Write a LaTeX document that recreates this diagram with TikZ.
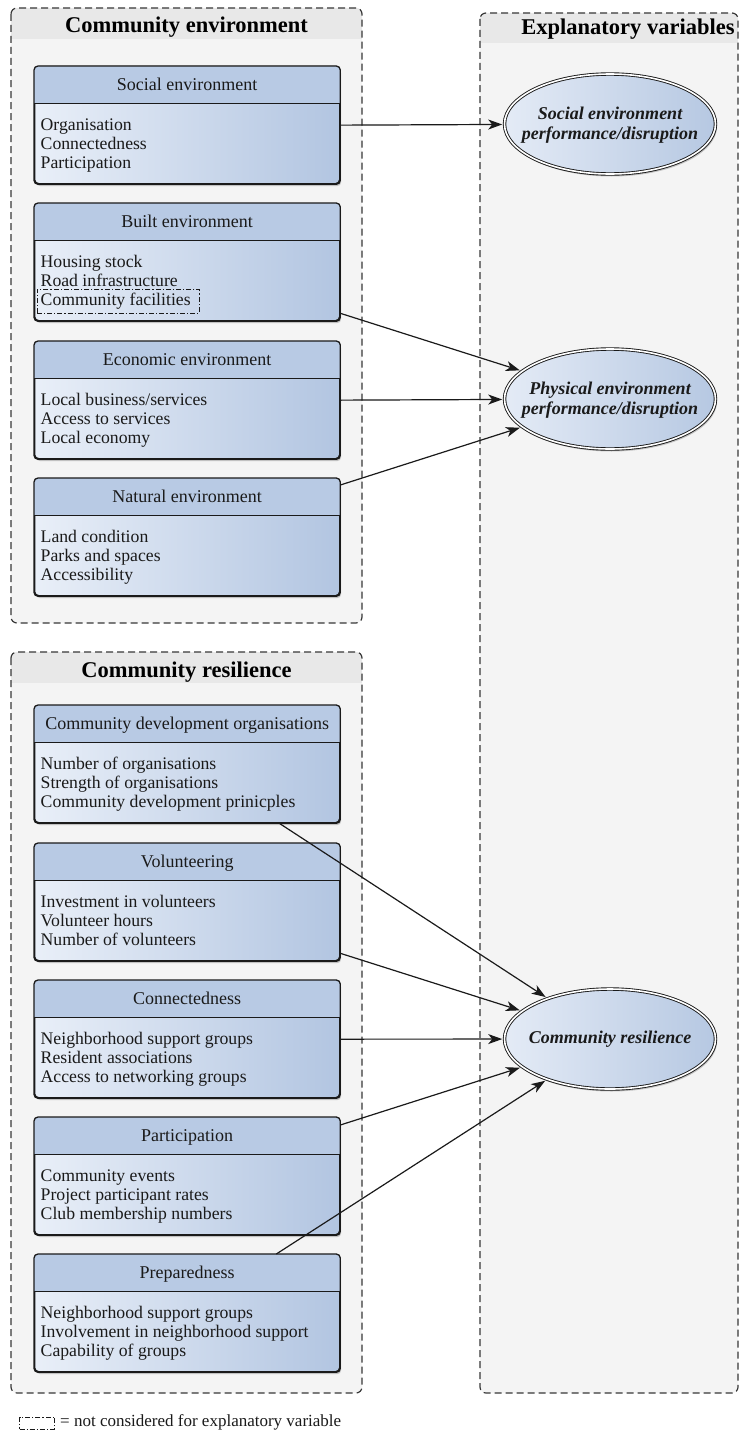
\documentclass[tikz,border=0pt]{standalone}
\usepackage{fontspec}
\setmainfont{Liberation Serif}
\usetikzlibrary{shadows,arrows.meta,shapes.geometric,calc}
\definecolor{headcol}{HTML}{B8CAE4}
\definecolor{bodyL}{HTML}{E9EFF8}
\definecolor{bodyR}{HTML}{B2C5E1}
\definecolor{ellL}{HTML}{E4EBF6}
\definecolor{ellR}{HTML}{B6C8E2}
\definecolor{contfill}{HTML}{F4F4F4}
\definecolor{contband}{HTML}{E8E8E8}
\definecolor{contline}{HTML}{383838}
\definecolor{ink}{HTML}{1A1A1A}
\tikzset{
  contborder/.style={draw=contline, line width=1.2pt, dash pattern=on 7pt off 4pt, rounded corners=6pt},
  conttitle/.style={font=\fontsize{22.5}{24}\selectfont\bfseries, text=black, inner sep=0pt},
  boxbody/.style={draw=ink, line width=1.3pt, rounded corners=4pt, minimum width=305pt, minimum height=117pt, inner sep=0pt,
    left color=bodyL, right color=bodyR,
    drop shadow={shadow xshift=1.5pt, shadow yshift=-2.5pt, opacity=0.3, fill=black!70}},
  headtext/.style={font=\fontsize{18}{20}\selectfont, text=ink, inner sep=0pt},
  itemtext/.style={font=\fontsize{17.7}{19}\selectfont, text=ink, inner sep=0pt},
  ellnode/.style={ellipse, draw=ink, double=white, double distance=1.6pt, line width=0.9pt,
    minimum width=211pt, minimum height=100pt, inner sep=0pt, outer sep=2.3pt,
    left color=ellL, right color=ellR,
    drop shadow={shadow xshift=1.5pt, shadow yshift=-2.5pt, opacity=0.3, fill=black!70}},
  elltext/.style={align=center, text=ink, inner sep=0pt,
    font=\fontsize{18}{20}\selectfont\bfseries\itshape},
  arr/.style={draw=ink, line width=1.2pt, -{Stealth[length=14pt,width=10pt,inset=4pt]}},
  dashdot/.style={draw=ink, line width=0.9pt, dash pattern=on 5pt off 2pt on 1.2pt off 2pt},
}
\newcommand{\contbox}[8]{%
  \fill[contfill, rounded corners=6pt] (#2,#3) rectangle (#4,#5);
  \begin{scope}
    \clip[rounded corners=6pt] (#2,#3) rectangle (#4,#5);
    \fill[contband] (#2,#3) rectangle (#4,#6);
  \end{scope}
  \draw[contborder] (#2,#3) rectangle (#4,#5);
  \node[conttitle, anchor=base] (#1) at (#7) {#8};
}
\newcommand{\varbox}[6]{%
  \node[boxbody, anchor=north west] (#1) at (34,#2) {};
  \begin{scope}
    \clip[rounded corners=4pt] (#1.north west) rectangle (#1.south east);
    \fill[headcol] (#1.north west) rectangle ([yshift=-37.5pt]#1.north east);
  \end{scope}
  \draw[ink, line width=1.2pt] ([yshift=-37.5pt]#1.north west) -- ([yshift=-37.5pt]#1.north east);
  \draw[ink, line width=1.3pt, rounded corners=4pt] (#1.north west) rectangle (#1.south east);
  \node[headtext, anchor=base] (#1h) at ([yshift=-24.5pt]#1.north) {#3};
  \node[itemtext, anchor=base west] (#1a) at ([xshift=6.5pt,yshift=-64pt]#1.north west) {#4};
  \node[itemtext, anchor=base west] (#1b) at ([xshift=6.5pt,yshift=-83.3pt]#1.north west) {#5};
  \node[itemtext, anchor=base west] (#1c) at ([xshift=6.5pt,yshift=-102.6pt]#1.north west) {#6};
}
\begin{document}
\begin{tikzpicture}[x=1pt,y=-1pt]
\useasboundingbox[fill=white] (0,0) rectangle (740,1437);

% containers
\contbox{envtitle}{11}{8}{362}{623}{39}{186.5,32.5}{Community environment}
\contbox{restitle}{11}{652}{362}{1393}{683}{186.5,677}{Community resilience}
\contbox{exptitle}{480}{13}{738}{1393}{43}{628,35}{Explanatory variables}

% variable boxes
\varbox{soc}{66}{Social environment}{Organisation}{Connectedness}{Participation}
\varbox{blt}{203}{Built environment}{Housing stock}{Road infrastructure}{Community facilities}
\varbox{eco}{341}{Economic environment}{Local business/services}{Access to services}{Local economy}
\varbox{nat}{478}{Natural environment}{Land condition}{Parks and spaces}{Accessibility}
\varbox{cdo}{705}{Community development organisations}{Number of organisations}{Strength of organisations}{Community development prinicples}
\varbox{vol}{843}{Volunteering}{Investment in volunteers}{Volunteer hours}{Number of volunteers}
\varbox{con}{980}{Connectedness}{Neighborhood support groups}{Resident associations}{Access to networking groups}
\varbox{par}{1117}{Participation}{Community events}{Project participant rates}{Club membership numbers}
\varbox{pre}{1254}{Preparedness}{Neighborhood support groups}{Involvement in neighborhood support}{Capability of groups}

% not considered marker
\node[dashdot, minimum width=162pt, minimum height=24pt, inner sep=0pt] (bltmark) at (118,301) {};

% explanatory variables
\node[ellnode] (socell) at (610,124) {};
\node[elltext] (socelltext) at (610,125) {Social environment\\performance/disruption};
\node[ellnode] (physell) at (610,399) {};
\node[elltext] (physelltext) at (610,400) {Physical environment\\performance/disruption};
\node[ellnode] (resell) at (610,1039) {};
\node[elltext] (reselltext) at (610,1039) {Community resilience};

% connectors
\draw[arr] (soc.east) -- (socell);
\draw[arr] ([yshift=8pt]blt.south east) -- (physell);
\draw[arr] (eco.east) -- (physell);
\draw[arr] ([yshift=-7pt]nat.north east) -- (physell);
\draw[arr] ([xshift=-61pt]cdo.south east) -- (resell);
\draw[arr] ([yshift=8pt]vol.south east) -- (resell);
\draw[arr] (con.east) -- (resell);
\draw[arr] ([yshift=-8pt]par.north east) -- (resell);
\draw[arr] ([xshift=-64pt]pre.north east) -- (resell);

% legend
\node[dashdot, minimum width=35pt, minimum height=12pt, inner sep=0pt] (legbox) at (37,1423) {};
\node[itemtext, font=\fontsize{17}{18}\selectfont, anchor=west] (legtext) at (60,1422.5) {= not considered for explanatory variable};
\end{tikzpicture}
\end{document}
